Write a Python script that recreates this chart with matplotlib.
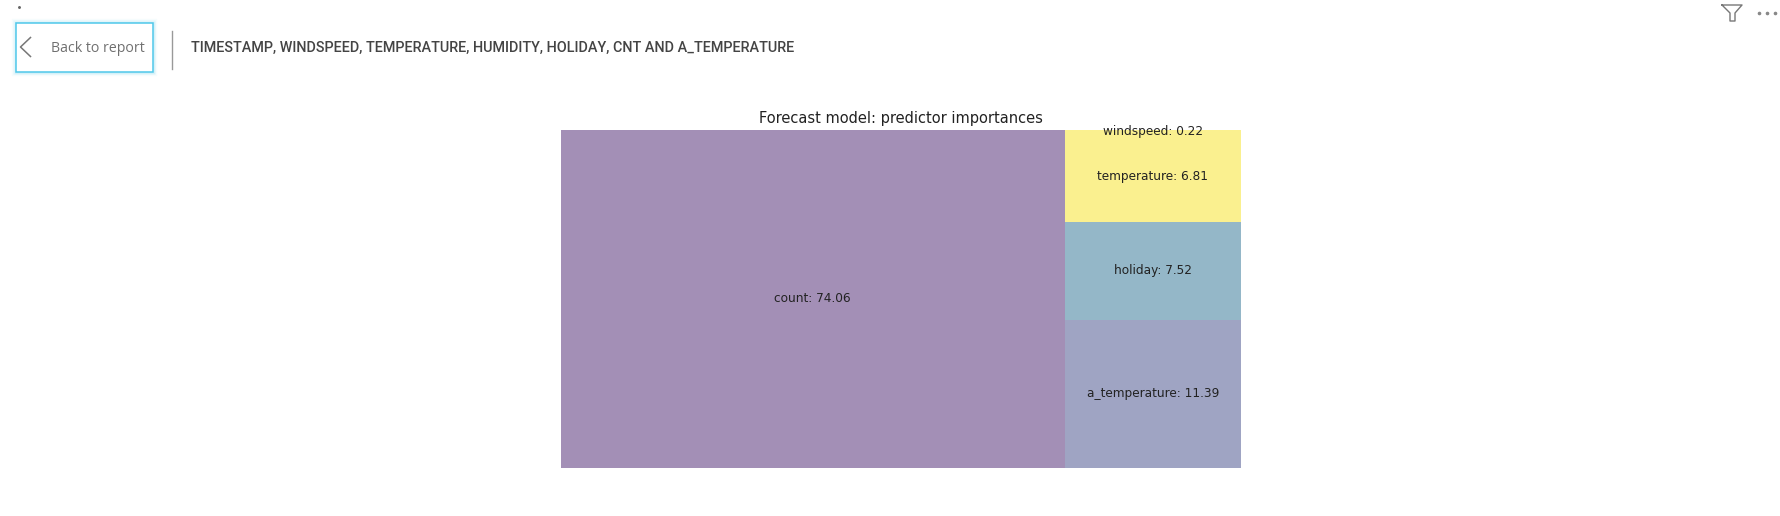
import matplotlib
matplotlib.use('Agg')
import matplotlib.pyplot as plt
import numpy as np

# Predictor importances, stacked from the bottom of the right column
predictors = ['count', 'a_temperature', 'holiday', 'temperature', 'windspeed']
importances = [74.06, 11.39, 7.52, 6.81, 0.22]
colors = ['#A38FB6', '#9FA4C3', '#94B7C8', '#FAF08F', '#FAF08F']

chart_title = 'Forecast model: predictor importances'
header_title = 'TIMESTAMP, WINDSPEED, TEMPERATURE, HUMIDITY, HOLIDAY, CNT AND A_TEMPERATURE'
back_label = 'Back to report'

W, H = 1780, 516
fig = plt.figure(figsize=(W / 100, H / 100), dpi=100, facecolor='white')

# Page furniture is drawn in pixel coordinates
page = fig.add_axes([0, 0, 1, 1])
page.set_xlim(0, W)
page.set_ylim(H, 0)
page.axis('off')

# Back button with a soft glow around the focus border
for lw, alpha in [(6, 0.05), (4, 0.08), (2.5, 0.12)]:
    page.add_patch(plt.Rectangle((15.5, 22.5), 137, 49, fill=False, edgecolor='#4FC8EA', linewidth=lw, alpha=alpha))
page.add_patch(plt.Rectangle((15.5, 22.5), 137, 49, facecolor='white', edgecolor='#4FC8EA', linewidth=1.1))
page.plot([30.5, 20.5, 30.5], [37.5, 47, 56.5], color='#777777', linewidth=1.1)
page.text(51, 48.5, back_label, family='Open Sans', fontsize=10.2, color='#707070', va='center', ha='left')
page.plot([171.5, 171.5], [31, 69], color='#999999', linewidth=1)
page.plot([19], [7], marker='o', markersize=1.1, color='#666666')
page.text(191, 47.5, header_title, family='Roboto', weight='medium', fontsize=10.4, color='#444444',
          va='center', ha='left')

# Filter icon and "more" dots
page.plot([1722, 1742, 1735, 1735, 1730, 1730, 1722], [5, 5, 13, 21, 21, 13, 5], color='#777777', linewidth=1)
page.plot([1759, 1767, 1775], [13, 13, 13], linestyle='none', marker='o', markersize=1.6, color='#888888')

# Treemap: one wide column for the largest value, the rest stacked beside it
ax = fig.add_axes([561 / W, 1 - 468 / H, 680 / W, 338 / H])
total = sum(importances)
left_width = importances[0] / total * 100
rest = importances[1:]
heights = np.array(rest) / sum(rest) * 100
bottoms = np.concatenate([[0], np.cumsum(heights)[:-1]])

ax.bar(0, 100, width=left_width, align='edge', color=colors[0])
ax.bar(left_width, heights, bottom=bottoms, width=100 - left_width, align='edge', color=colors[1:])
ax.set_xlim(0, 100)
ax.set_ylim(0, 100)
ax.axis('off')

ax.text(left_width / 2, 50.1, f'{predictors[0]}: {importances[0]:.2f}', ha='center', va='center',
        fontsize=8.7, color='#222222')
for name, val, h, b in zip(predictors[1:], rest, heights, bottoms):
    ax.text((left_width + 100) / 2, b + h / 2 + 0.1, f'{name}: {val:.2f}', ha='center', va='center',
            fontsize=8.7, color='#222222')

page.text(901, 118.5, chart_title, fontsize=10.5, color='#222222', ha='center', va='center')

fig.savefig('out.png', dpi=100)
